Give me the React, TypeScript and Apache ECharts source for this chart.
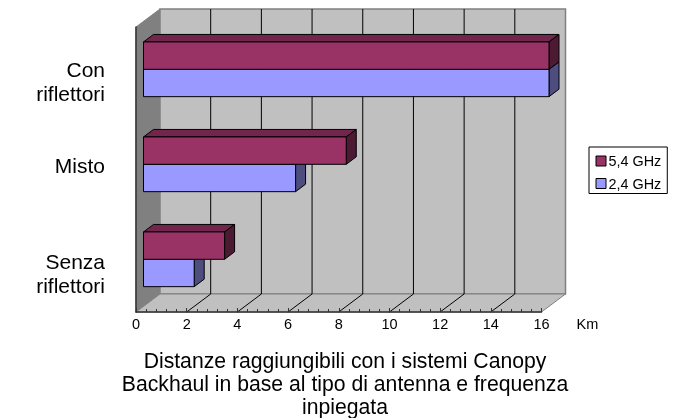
import React, { useEffect, useRef } from "react";
import * as echarts from "echarts";

const categories = ["Senza\nriflettori", "Misto", "Con\nriflettori"];
const series54 = [3.2, 8, 16];
const series24 = [2, 6, 16];
const tickValues = [0, 2, 4, 6, 8, 10, 12, 14, 16];
const categoryLabelShift = [9, -4, 7];

const DX = 24;
const DY = -18;

const wallsRender = (params: any, api: any) => {
  const cs = params.coordSys;
  const x0 = cs.x, x1 = cs.x + cs.width, yT = cs.y, yB = cs.y + cs.height;
  const children: any[] = [
    { type: "polygon", shape: { points: [[x0, yT], [x0 + DX, yT + DY], [x0 + DX, yB + DY], [x0, yB]] }, style: { fill: "#808080", stroke: "#808080", lineWidth: 1 } },
    { type: "polygon", shape: { points: [[x0 + DX, yT + DY], [x1 + DX, yT + DY], [x1 + DX, yB + DY], [x0 + DX, yB + DY]] }, style: { fill: "#C0C0C0", stroke: "#808080", lineWidth: 1.5 } },
    { type: "polygon", shape: { points: [[x0, yB], [x0 + DX, yB + DY], [x1 + DX, yB + DY], [x1, yB]] }, style: { fill: "#C0C0C0", stroke: "#808080", lineWidth: 1 } },
  ];
  tickValues.slice(1, -1).forEach((t) => {
    const x = api.coord([t, 0])[0];
    children.push({ type: "polyline", shape: { points: [[x, yB], [x + DX, yB + DY], [x + DX, yT + DY]] }, style: { fill: "none", stroke: "#000", lineWidth: 1 } });
  });
  return { type: "group", children };
};

const labelRender = (_p: any, api: any) => {
  const i = api.value(1);
  const y = api.coord([0, i])[1] + categoryLabelShift[i];
  return {
    type: "text",
    style: {
      text: categories[i], x: 105, y, align: "right", verticalAlign: "middle",
      fontSize: 21, lineHeight: 24, fontFamily: "Liberation Sans", fill: "#000",
    },
  };
};

const barRender = (front: string, top: string, side: string) => (_p: any, api: any) => {
  const end = api.coord([api.value(0), api.value(1)]);
  const start = api.coord([0, api.value(1)]);
  const band = api.size([0, 1])[1];
  const h = band * 0.288;
  const ox = 7.5;
  const isUpper = front === "#993366";
  const yc = end[1] - 5.2;
  const y0 = isUpper ? yc - h : yc;
  const y1 = y0 + h;
  const xa = start[0] + ox, xb = end[0] + ox;
  const dx = 10, dy = -7.5;
  const st = { stroke: "#000", lineWidth: 1, lineJoin: "round" };
  return {
    type: "group",
    children: [
      { type: "polygon", shape: { points: [[xa, y0], [xa + dx, y0 + dy], [xb + dx, y0 + dy], [xb, y0]] }, style: { ...st, fill: top } },
      { type: "polygon", shape: { points: [[xb, y0], [xb + dx, y0 + dy], [xb + dx, y1 + dy], [xb, y1]] }, style: { ...st, fill: side } },
      { type: "rect", shape: { x: xa, y: y0, width: xb - xa, height: h }, style: { ...st, fill: front } },
    ],
  };
};

export default function App() {
  const ref = useRef<HTMLDivElement>(null);
  useEffect(() => {
    const chart = echarts.init(ref.current!, undefined, { renderer: "svg" });
    chart.setOption({
      animation: false,
      textStyle: { fontFamily: "Liberation Sans" },
      title: {
        text: "Distanze raggiungibili con i sistemi Canopy\nBackhaul in base al tipo di antenna e frequenza\ninpiegata",
        left: 345, top: 349, textAlign: "center", padding: 0,
        textStyle: { fontFamily: "Liberation Sans", fontSize: 21.2, fontWeight: "normal", color: "#000", lineHeight: 23 },
      },
      grid: { left: 136, width: 405.5, top: 27, height: 285 },
      legend: {
        data: [
          { name: "5,4 GHz", itemStyle: { color: "#993366", borderColor: "#000", borderWidth: 1 } },
          { name: "2,4 GHz", itemStyle: { color: "#9999FF", borderColor: "#000", borderWidth: 1 } },
        ],
        orient: "vertical", left: 589, top: 147,
        backgroundColor: "#fff", borderColor: "#000", borderWidth: 1, padding: [7, 6, 3, 6.5],
        itemWidth: 10, itemHeight: 10, itemGap: 8.5, icon: "rect",
        textStyle: { fontFamily: "Liberation Sans", fontSize: 14.4, lineHeight: 14, color: "#000", padding: [0, 0, 0, -2.5] },
      },
      xAxis: {
        type: "value", min: 0, max: 16, interval: 2, z: 5,
        splitLine: { show: false },
        axisLine: { show: true, onZero: false, lineStyle: { color: "#333", width: 1.5 } },
        axisTick: { show: true, inside: true, length: 4, lineStyle: { color: "#333" } },
        minorTick: { show: true, splitNumber: 5, length: 3, lineStyle: { color: "#333" } },
        axisLabel: { color: "#000", fontSize: 14.5, margin: 4, fontFamily: "Liberation Sans" },
        name: "Km", nameLocation: "end", nameGap: 35,
        nameTextStyle: { color: "#000", fontSize: 14.5, verticalAlign: "top", padding: [4, 0, 0, 0], fontFamily: "Liberation Sans" },
      },
      yAxis: {
        type: "category", z: 5,
        data: categories,
        axisLine: { show: true, lineStyle: { color: "#333", width: 1.5 } },
        axisTick: { show: false },
        axisLabel: { show: false },
      },
      series: [
        { type: "custom", name: "walls", renderItem: wallsRender, data: [[0, 0]], encode: { x: 0, y: 1 }, silent: true, z: 1 },
        { type: "custom", name: "2,4 GHz", itemStyle: { color: "#9999FF", borderColor: "#000" }, renderItem: barRender("#9999FF", "#6E6EB8", "#4D4D80"), data: series24.map((v, i) => [v, i]), encode: { x: 0, y: 1 }, z: 2 },
        { type: "custom", name: "5,4 GHz", itemStyle: { color: "#993366", borderColor: "#000" }, renderItem: barRender("#993366", "#73264D", "#4D1A33"), data: series54.map((v, i) => [v, i]), encode: { x: 0, y: 1 }, z: 3 },
        { type: "custom", name: "categoryLabels", renderItem: labelRender, data: categories.map((_, i) => [0, i]), encode: { x: 0, y: 1 }, silent: true, clip: false, z: 4 },
      ],
    });
    return () => chart.dispose();
  }, []);
  return <div ref={ref} style={{ position: "fixed", left: 0, top: 0, width: 683, height: 418 }} />;
}
